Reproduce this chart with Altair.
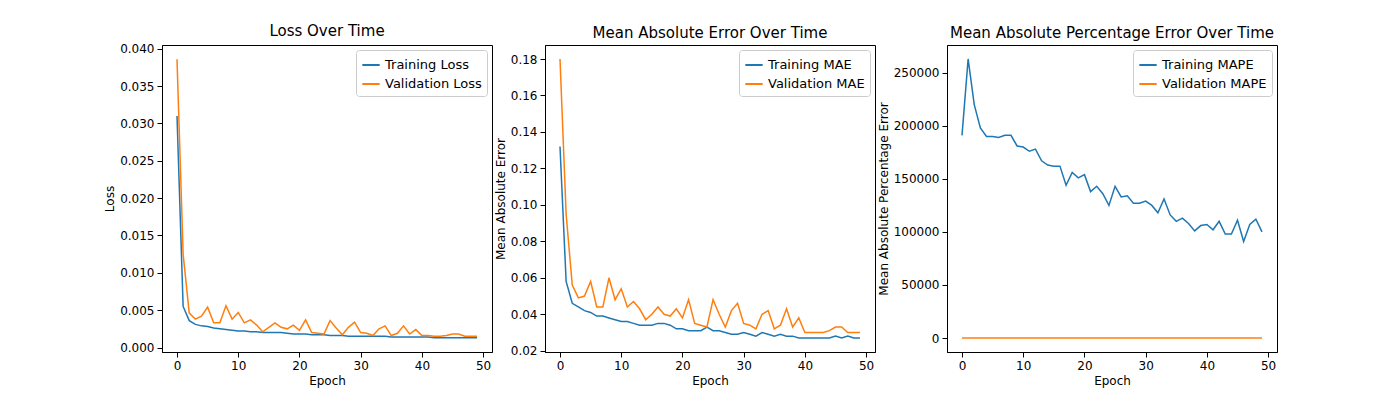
import pandas as pd
import altair as alt

epochs = list(range(50))

train_loss = [0.031, 0.0055, 0.0036, 0.0031, 0.0029, 0.0028, 0.0026, 0.0025, 0.0024, 0.0023,
              0.0022, 0.0022, 0.0021, 0.0021, 0.0020, 0.0020, 0.0020, 0.0020, 0.0019, 0.0018,
              0.0018, 0.0018, 0.0017, 0.0017, 0.0017, 0.0016, 0.0016, 0.0016, 0.0015, 0.0015,
              0.0015, 0.0015, 0.0015, 0.0015, 0.0015, 0.0014, 0.0014, 0.0014, 0.0014, 0.0014,
              0.0014, 0.0014, 0.0013, 0.0013, 0.0013, 0.0013, 0.0013, 0.0013, 0.0013, 0.0013]
val_loss = [0.0386, 0.0125, 0.0046, 0.0038, 0.0042, 0.0054, 0.0033, 0.0033, 0.0056, 0.0038,
            0.0047, 0.0033, 0.0037, 0.0030, 0.0021, 0.0027, 0.0033, 0.0027, 0.0025, 0.0030,
            0.0023, 0.0037, 0.0020, 0.0019, 0.0018, 0.0036, 0.0026, 0.0017, 0.0027, 0.0034,
            0.0020, 0.0019, 0.0016, 0.0025, 0.0029, 0.0016, 0.0019, 0.0029, 0.0018, 0.0024,
            0.0016, 0.0016, 0.0015, 0.0015, 0.0016, 0.0018, 0.0018, 0.0015, 0.0015, 0.0015]

train_mae = [0.132, 0.058, 0.046, 0.044, 0.042, 0.041, 0.039, 0.039, 0.038, 0.037,
             0.036, 0.036, 0.035, 0.034, 0.034, 0.034, 0.035, 0.035, 0.034, 0.032,
             0.032, 0.031, 0.031, 0.031, 0.033, 0.031, 0.031, 0.030, 0.029, 0.029,
             0.030, 0.029, 0.028, 0.030, 0.029, 0.028, 0.029, 0.028, 0.028, 0.027,
             0.027, 0.027, 0.027, 0.027, 0.027, 0.028, 0.027, 0.028, 0.027, 0.027]
val_mae = [0.180, 0.095, 0.056, 0.049, 0.050, 0.058, 0.044, 0.044, 0.060, 0.048,
           0.054, 0.044, 0.047, 0.043, 0.037, 0.040, 0.044, 0.040, 0.039, 0.043,
           0.038, 0.048, 0.035, 0.034, 0.033, 0.048, 0.040, 0.033, 0.042, 0.046,
           0.035, 0.034, 0.032, 0.040, 0.042, 0.032, 0.034, 0.043, 0.033, 0.038,
           0.030, 0.030, 0.030, 0.030, 0.031, 0.033, 0.033, 0.030, 0.030, 0.030]

train_mape = [191000, 263000, 220000, 198000, 190000, 190000, 189000, 191000, 191000, 181000,
              180000, 176000, 178000, 167000, 163000, 162000, 162000, 144000, 156000, 151000,
              154000, 138000, 143000, 136000, 125000, 143000, 133000, 134000, 127000, 127000,
              129000, 125000, 118000, 131000, 116000, 110000, 113000, 108000, 101000, 106000,
              107000, 102000, 110000, 98000, 98000, 111000, 91000, 107000, 112000, 100000]
val_mape = [30, 30, 30, 30, 30, 30, 30, 30, 30, 30,
            30, 30, 30, 30, 30, 30, 30, 30, 30, 30,
            30, 30, 30, 30, 30, 30, 30, 30, 30, 30,
            30, 30, 30, 30, 30, 30, 30, 30, 30, 30,
            30, 30, 30, 30, 30, 30, 30, 30, 30, 30]

FONT = "DejaVu Sans"


def panel(train, val, names, title, ytitle, ydomain, fmt):
    df = pd.DataFrame({
        "epoch": epochs * 2,
        "value": train + val,
        "series": [names[0]] * 50 + [names[1]] * 50,
    })
    return (
        alt.Chart(df)
        .mark_line(strokeWidth=1.5)
        .encode(
            alt.X("epoch:Q", title="Epoch",
                  scale=alt.Scale(domain=[-2.45, 51.45], nice=False, zero=False),
                  axis=alt.Axis(values=[0, 10, 20, 30, 40, 50], grid=False)),
            alt.Y("value:Q", title=ytitle,
                  scale=alt.Scale(domain=ydomain, nice=False, zero=False),
                  axis=alt.Axis(format=fmt, grid=False, tickCount=9, titlePadding=3)),
            color=alt.Color("series:N", sort=names, title=None,
                            scale=alt.Scale(domain=names, range=["#1f77b4", "#ff7f0e"]),
                            legend=alt.Legend(orient="top-right", symbolType="stroke",
                                              symbolSize=300, symbolStrokeWidth=2,
                                              strokeColor="#cccccc", fillColor="white",
                                              padding=5, cornerRadius=3, offset=5,
                                              labelFontSize=13, labelFont=FONT)),
        )
        .properties(width=330, height=307,
                    title=alt.TitleParams(title, fontSize=15, fontWeight="normal", font=FONT,
                                          offset=4))
    )


p1 = panel(train_loss, val_loss, ["Training Loss", "Validation Loss"],
           "Loss Over Time", "Loss", [-0.0006, 0.0405], ".3f")
p2 = panel(train_mae, val_mae, ["Training MAE", "Validation MAE"],
           "Mean Absolute Error Over Time", "Mean Absolute Error", [0.0193, 0.1877], ".2f")
p3 = panel(train_mape, val_mape, ["Training MAPE", "Validation MAPE"],
           "Mean Absolute Percentage Error Over Time", "Mean Absolute Percentage Error",
           [-13150, 276150], "d")

chart = (
    alt.hconcat(p1, p2, p3, spacing=0)
    .resolve_scale(color="independent")
    .configure_view(stroke="black", strokeWidth=1)
    .configure_axis(domainColor="black", tickColor="black", labelColor="black",
                    titleColor="black", labelFont=FONT, titleFont=FONT,
                    labelFontSize=12, titleFontSize=12, titleFontWeight="normal",
                    labelPadding=3)
    .properties(padding={"left": 95, "top": 15, "right": 10, "bottom": 5})
)

chart.save("out.html", embed_options={"renderer": "svg", "actions": False})
